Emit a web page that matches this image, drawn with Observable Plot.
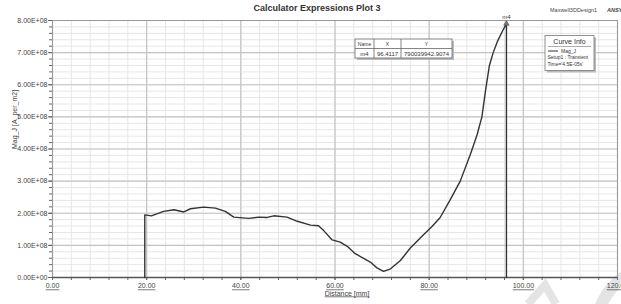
<!DOCTYPE html>
<html><head><meta charset="utf-8">
<script src="https://cdn.jsdelivr.net/npm/d3@7"></script>
<script src="https://cdn.jsdelivr.net/npm/@observablehq/plot@0.6"></script>
<style>
html,body{margin:0;padding:0;background:#fff;overflow:hidden}
#chart{position:relative;width:621px;height:304px}
</style></head><body><div id="chart"></div>
<script>
// ---- data ----
const distance = [19.6, 19.6, 21.0, 23.6, 25.8, 27.9, 29.3, 32.1, 34.6, 36.7, 38.5, 41.7, 43.8, 45.6, 47.0, 49.8, 52.0, 54.8, 56.5, 57.6, 59.4, 61.1, 62.6, 64.3, 67.5, 68.9, 70.3, 71.8, 73.9, 76.0, 78.8, 80.5, 82.3, 84.4, 86.6, 88.8, 90.2, 91.2, 92.0, 92.8, 93.6, 94.5, 95.5, 96.4117, 96.4117];
const magJ = [0, 1.95e8, 1.92e8, 2.06e8, 2.11e8, 2.04e8, 2.14e8, 2.19e8, 2.16e8, 2.06e8, 1.88e8, 1.84e8, 1.88e8, 1.87e8, 1.92e8, 1.88e8, 1.75e8, 1.63e8, 1.61e8, 1.46e8, 1.17e8, 1.10e8, 0.97e8, 0.74e8, 0.48e8, 0.30e8, 0.19e8, 0.27e8, 0.53e8, 0.92e8, 1.33e8, 1.57e8, 1.86e8, 2.40e8, 3.00e8, 3.85e8, 4.45e8, 5.00e8, 5.85e8, 6.60e8, 7.00e8, 7.35e8, 7.65e8, 7.90039942e8, 0];
const xTicks = [0, 20, 40, 60, 80, 100, 120];
const yTicks = [0, 1e8, 2e8, 3e8, 4e8, 5e8, 6e8, 7e8, 8e8];
const markerName = "m4";
const markerX = 96.4117;
const markerY = 790039942.9074;
const markerHeader = ["Name", "X", "Y"];
const curveInfo = ["Curve Info", "Mag_J", "Setup1 : Transient", "Time='4.5E-05s'"];
const titleText = "Calculator Expressions Plot 3";
const designText = "Maxwell3DDesign1";
const brandText = "ANSYS";
const xLabel = "Distance [mm]";
const yLabel = "Mag_J [A_per_m2]";

// ---- chart ----
const font = "'Liberation Sans', Arial, sans-serif";
const data = distance.map((d, i) => ({x: d, y: magJ[i]}));
const xMinor = d3.range(0, 121, 4);
const yMinor = d3.range(0, 8e8 + 1, 2e7);
const fmtY = d => d === 0 ? "0.00E+00" : (d / 1e8).toFixed(2) + "E+08";

const W = 621, H = 304, mL = 52, mR = 4, mT = 20, mB = 27;

const plot = Plot.plot({
  width: W, height: H,
  marginLeft: mL, marginRight: mR, marginTop: mT, marginBottom: mB,
  style: {fontFamily: font, fontSize: "7px", background: "#fff", overflow: "visible", color: "#333"},
  x: {domain: [0, 120]},
  y: {domain: [0, 8e8]},
  marks: [
    Plot.ruleX(xMinor, {stroke: "#e6e6e6", strokeWidth: 1}),
    Plot.ruleY(yMinor, {stroke: "#e6e6e6", strokeWidth: 1}),
    Plot.ruleX(xTicks, {stroke: "#c4c4c4", strokeWidth: 1.2}),
    Plot.ruleY(yTicks, {stroke: "#c4c4c4", strokeWidth: 1.2}),
    Plot.frame({stroke: "#999"}),
    Plot.axisY({ticks: yMinor, tickSize: 3, tickFormat: () => "", label: null, stroke: "#666"}),
    Plot.axisY({ticks: yTicks, tickSize: 4, tickPadding: 1, tickFormat: fmtY, label: null, stroke: "#666", fill: "#444"}),
    Plot.axisX({ticks: xMinor, tickSize: 3, tickFormat: () => "", label: null, stroke: "#666"}),
    Plot.axisX({ticks: xTicks, tickSize: 3, tickPadding: 3, tickFormat: d => d.toFixed(2), label: null, stroke: "#666", fill: "#444"}),
    Plot.ruleY([0], {stroke: "#555", strokeWidth: 1.5}),
    Plot.line(data, {x: "x", y: "y", stroke: "#333", strokeWidth: 1.4}),
    Plot.dot([{x: markerX, y: markerY}], {x: "x", y: "y", symbol: "triangle", r: 2, fill: "#777", stroke: "#555", strokeWidth: 0.6}),
    Plot.text([markerName], {x: () => markerX, y: () => markerY, text: d => d, dy: -7, fontSize: 6, fill: "#333"}),
    Plot.text([yLabel], {frameAnchor: "left", dx: -38, rotate: -90, text: d => d, fontSize: 7, fill: "#444"}),
    Plot.text([xLabel], {frameAnchor: "bottom", dx: 12, dy: 18, text: d => d, fontSize: 7, fill: "#444", className: "xlab"})
  ]
});
document.getElementById("chart").appendChild(plot);

const svg = d3.select(plot);
// underline x tick labels and x label
svg.selectAll("g[aria-label='x-axis tick label'] text").style("text-decoration", "underline");
svg.selectAll(".xlab text").style("text-decoration", "underline");

// watermark (faint)
const wm = svg.insert("g", ":first-child").attr("fill", "none").attr("stroke", "#e4e4e4");
wm.append("path").attr("d", d3.arc()({innerRadius: 58, outerRadius: 70, startAngle: -1.65, endAngle: -0.05})).attr("transform", "translate(660,330)").attr("fill", "#e4e4e4").attr("stroke", "none");
wm.append("path").attr("d", "M528,304 L545,285 L556,304").attr("stroke-width", 8);

// title & header
svg.append("text").attr("x", 317).attr("y", 11).attr("text-anchor", "middle")
  .attr("font-family", font).attr("font-size", 9).attr("font-weight", "bold").attr("fill", "#333").text(titleText);
svg.append("text").attr("x", 550).attr("y", 12).attr("text-anchor", "start").attr("font-family", font).attr("font-size", 5.5).attr("fill", "#444").text(designText);
svg.append("text").attr("x", 607).attr("y", 12).attr("text-anchor", "start").attr("font-family", font).attr("font-size", 5.5).attr("font-weight", "bold").attr("font-style", "italic").attr("fill", "#444").text(brandText);

// marker table
const tb = svg.append("g").attr("font-family", font).attr("fill", "#333");
const tx = [355, 374, 401, 452], ty = [39, 48.5, 58];
tb.append("rect").attr("x", tx[0] + 2).attr("y", ty[0] + 2).attr("width", tx[3] - tx[0]).attr("height", ty[2] - ty[0]).attr("fill", "#bbb");
tb.append("rect").attr("x", tx[0]).attr("y", ty[0]).attr("width", tx[3] - tx[0]).attr("height", ty[2] - ty[0]).attr("fill", "#fff").attr("stroke", "#666").attr("stroke-width", 0.8);
tb.append("line").attr("x1", tx[0]).attr("x2", tx[3]).attr("y1", ty[1]).attr("y2", ty[1]).attr("stroke", "#666").attr("stroke-width", 0.8);
[tx[1], tx[2]].forEach(x => tb.append("line").attr("x1", x).attr("x2", x).attr("y1", ty[0]).attr("y2", ty[2]).attr("stroke", "#666").attr("stroke-width", 0.8));
const rowVals = [markerName, markerX.toFixed(4), markerY.toFixed(4)];
for (let c = 0; c < 3; c++) {
  const cx = (tx[c] + tx[c + 1]) / 2;
  tb.append("text").attr("x", cx).attr("y", ty[0] + 7).attr("text-anchor", "middle").attr("font-size", 5).text(markerHeader[c]);
  tb.append("text").attr("x", cx).attr("y", ty[1] + 7).attr("text-anchor", "middle").attr("font-size", 6).text(rowVals[c]);
}

// curve info box
const ci = svg.append("g").attr("font-family", font).attr("fill", "#333").attr("text-anchor", "start");
const bx = 545, by = 35.5, bw = 49, bh = 35;
ci.append("rect").attr("x", bx + 2).attr("y", by + 2).attr("width", bw).attr("height", bh).attr("fill", "#bbb");
ci.append("rect").attr("x", bx).attr("y", by).attr("width", bw).attr("height", bh).attr("fill", "#fff").attr("stroke", "#777").attr("stroke-width", 0.8);
ci.append("line").attr("x1", bx + 3).attr("x2", bx + bw - 3).attr("y1", by + 11).attr("y2", by + 11).attr("stroke", "#777").attr("stroke-width", 0.6);
ci.append("text").attr("x", bx + bw / 2).attr("y", by + 8.5).attr("text-anchor", "middle").attr("font-size", 7).text(curveInfo[0]);
ci.append("line").attr("x1", bx + 3).attr("x2", bx + 13).attr("y1", by + 15.5).attr("y2", by + 15.5).attr("stroke", "#333").attr("stroke-width", 1);
ci.append("text").attr("x", bx + 16).attr("y", by + 17).attr("text-anchor", "start").attr("font-size", 5).text(curveInfo[1]);
ci.append("text").attr("x", bx + 2.5).attr("y", by + 23.5).attr("text-anchor", "start").attr("font-size", 5).text(curveInfo[2]);
ci.append("text").attr("x", bx + 2.5).attr("y", by + 30).attr("text-anchor", "start").attr("font-size", 5).text(curveInfo[3]);
</script>
</body></html>
